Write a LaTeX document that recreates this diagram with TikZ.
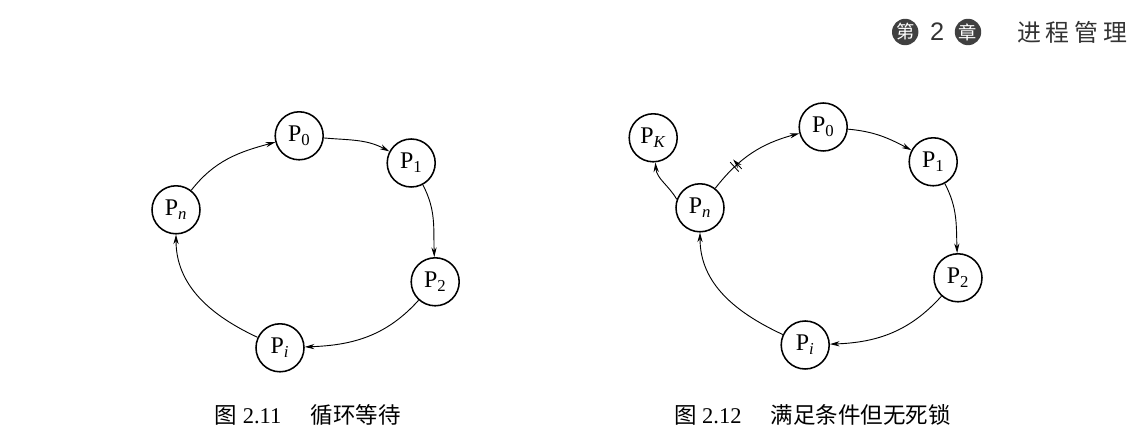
\documentclass[tikz,border=0pt]{standalone}
\usepackage{fontspec}
\setmainfont{Liberation Serif}
\newfontfamily\cjk{Noto Sans CJK SC}
\newfontfamily\cjkhead[LetterSpace=20]{Noto Sans CJK SC}
\newfontfamily\headsans{Liberation Sans}
\usetikzlibrary{arrows.meta,decorations.markings}

\tikzset{
  proc/.style={draw, circle, line width=1.1pt, minimum size=1.2cm, inner sep=0pt, font=\fontsize{17}{19}\selectfont},
  edge/.style={line width=0.65pt, -{Stealth[length=2.4mm,width=1.3mm]}},
  cut/.style={postaction={decorate, decoration={markings, mark=at position 0.3 with {\draw[line width=0.6pt] (-0.05,-0.16) -- (-0.05,0.16) (0.05,-0.16) -- (0.05,0.16);}}}},
  badge/.style={circle, fill=black!75, text=white, minimum size=0.66cm, inner sep=0pt, font=\cjk\fontsize{13}{13}\selectfont},
  caption/.style={font=\fontsize{16}{18}\selectfont}
}

\begin{document}
\begin{tikzpicture}
    \useasboundingbox (0,0) rectangle (28.375,11.175);

    % Header
    \node[badge] (hd1) at (22.63,10.375) {第};
    \node[text=black!80, font=\headsans\fontsize{18}{18}\selectfont] (hd2) at (23.43,10.375) {2};
    \node[badge] (hd3) at (24.2,10.375) {章};
    \node[anchor=east, text=black!80, font=\cjkhead\fontsize{17}{17}\selectfont] (hd4) at (28.3,10.375) {进程管理};

    % Nodes (left)
    \node[proc] (L0) at (7.48,7.78) {P\textsubscript{0}};
    \node[proc] (L1) at (10.28,7.10) {P\textsubscript{1}};
    \node[proc] (L2) at (10.88,4.13) {P\textsubscript{2}};
    \node[proc] (Li) at (7.00,2.48) {P\textsubscript{\textit{i}}};
    \node[proc] (Ln) at (4.40,5.93) {P\textsubscript{\textit{n}}};

    % Nodes (right)
    \node[proc] (RK) at (16.33,7.73) {P\textsubscript{\textit{K}}};
    \node[proc] (R0) at (20.58,8.00) {P\textsubscript{0}};
    \node[proc] (R1) at (23.33,7.13) {P\textsubscript{1}};
    \node[proc] (R2) at (23.95,4.23) {P\textsubscript{2}};
    \node[proc] (Ri) at (20.13,2.55) {P\textsubscript{\textit{i}}};
    \node[proc] (Rn) at (17.50,5.98) {P\textsubscript{\textit{n}}};

    % Lines (left)
    \draw[edge] (Ln) to[out=52,in=195] (L0);
    \draw[edge] (L0) to[out=-5,in=152] (L1);
    \draw[edge] (L1) to[out=-62,in=92] (L2);
    \draw[edge] (L2) to[out=228,in=2] (Li);
    \draw[edge] (Li) to[out=155,in=270] (Ln);

    % Lines (right)
    \draw[edge] (Rn.160) to[out=120,in=-85] (RK);
    \draw[edge, cut] (Rn) to[out=52,in=195] (R0);
    \draw[edge] (R0) to[out=-5,in=152] (R1);
    \draw[edge] (R1) to[out=-62,in=92] (R2);
    \draw[edge] (R2) to[out=228,in=2] (Ri);
    \draw[edge] (Ri) to[out=155,in=270] (Rn);

    % Captions
    \node[caption] (capL) at (7.69,0.8) {{\cjk 图} 2.11\hspace{1.3em}{\cjk 循环等待}};
    \node[caption] (capR) at (20.31,0.8) {{\cjk 图} 2.12\hspace{1.3em}{\cjk 满足条件但无死锁}};
\end{tikzpicture}
\end{document}
